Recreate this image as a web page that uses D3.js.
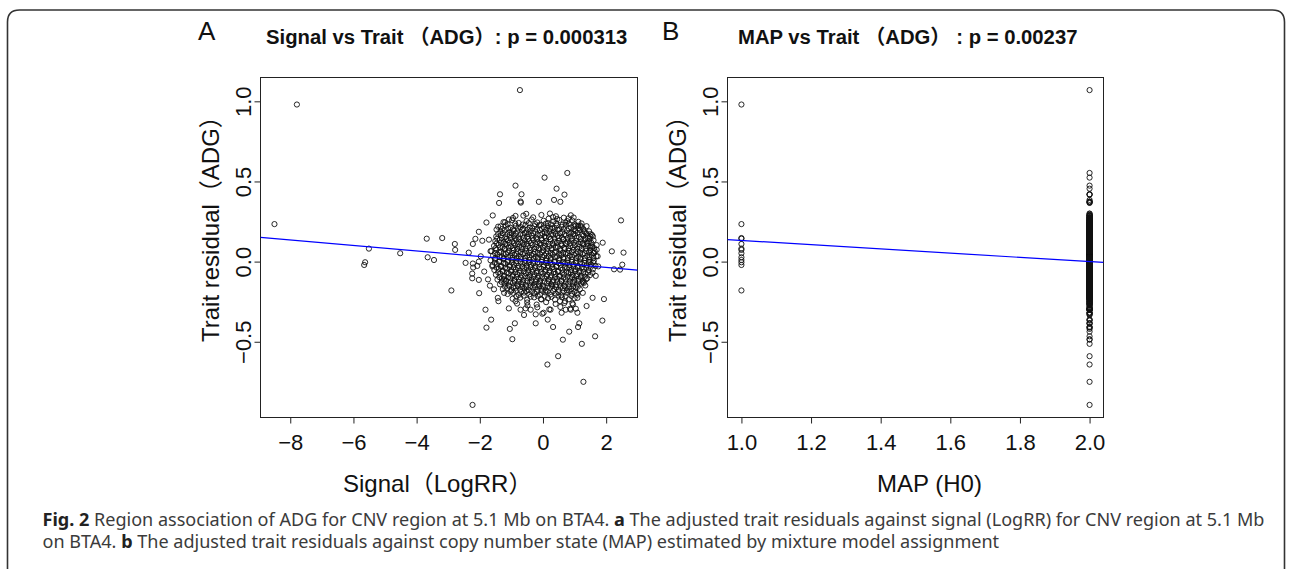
<!DOCTYPE html>
<html>
<head>
<meta charset="utf-8">
<script src="https://cdn.jsdelivr.net/npm/d3@7"></script>
<style>
  html, body { margin: 0; padding: 0; background: #fff; }
  svg { display: block; }
  .lbl { font-family: "Liberation Sans", Arial, "Noto Sans CJK SC", sans-serif; fill: #111; }
  .cap { font-family: "Noto Sans", "Open Sans", sans-serif; fill: #3b3b3b; }
</style>
</head>
<body>
<svg id="fig" width="1292" height="569"></svg>
<script>
// signal (LogRR) vs trait residual, copy number state 1 (MAP = 1)
const map1Points = [
  [-8.50, 0.234], [-7.79, 0.98], [-5.66, -0.021], [-5.63, -0.004], [-5.51, 0.081],
  [-4.52, 0.052], [-3.68, 0.143], [-3.65, 0.027], [-3.45, 0.010], [-3.19, 0.147],
  [-2.90, -0.180], [-2.79, 0.110], [-2.78, 0.073]
];

// MAP = 2, scattered points around the main cloud
const map2Outliers = [
  [-0.73, 1.07], [0.77, 0.553], [0.05, 0.524], [-0.87, 0.474], [0.43, 0.455], [-1.36, 0.42], [-0.68, 0.42],
  [0.68, 0.418], [0.35, 0.385], [0.55, 0.373], [-0.13, 0.373], [-0.71, 0.375], [-0.70, 0.368], [-1.39, 0.366],
  [2.47, 0.257], [-1.59, 0.288], [-1.79, 0.244], [1.89, 0.118], [2.18, 0.064], [2.55, 0.056], [2.51, -0.019],
  [2.25, -0.048], [2.44, -0.05], [1.67, -0.089], [1.93, -0.234], [1.57, -0.226], [1.38, -0.277], [1.88, -0.368],
  [1.65, -0.466], [1.23, -0.513], [1.11, -0.408], [1.15, -0.385], [0.83, -0.437], [0.63, -0.487], [0.48, -0.59],
  [0.14, -0.642], [1.28, -0.75], [-2.23, -0.894], [0.32, -0.408], [0.15, -0.362], [0.02, -0.319], [-0.23, -0.385],
  [-0.23, -0.329], [-0.60, -0.333], [-0.89, -0.385], [-1.05, -0.42], [-0.97, -0.484], [-1.08, -0.292], [-1.64, -0.362],
  [-1.79, -0.412], [-1.82, -0.30], [-2.02, -0.197], [-2.24, -0.104], [-2.24, -0.075], [-2.45, -0.008], [-2.35, 0.056],
  [-2.22, 0.11], [-2.03, 0.186], [-2.14, 0.142], [-2.22, -0.012], [-2.08, -0.027], [-2.03, 0.0], [-2.21, -0.037],
  [-1.97, 0.033], [-1.92, 0.13], [-1.86, -0.062], [-2.03, -0.114], [-1.08, 0.263], [-0.87, 0.285], [-0.53, 0.298],
  [0.22, 0.30], [0.32, 0.277], [0.45, 0.265], [0.97, 0.275], [1.11, 0.224], [1.19, 0.224], [0.81, 0.27],
  [-1.20, 0.246], [-1.34, 0.22], [-1.47, 0.20], [1.70, 0.074], [1.73, 0.033], [1.75, -0.03], [1.52, 0.095],
  [1.49, 0.156], [1.41, 0.119], [1.30, 0.189], [-1.71, 0.137], [-1.66, 0.065], [-1.60, -0.03], [-1.74, -0.111],
  [-1.55, -0.173], [-1.68, -0.15], [-1.43, -0.226], [-1.41, -0.247], [-1.23, -0.195], [-1.23, -0.111], [1.30, -0.132],
  [1.26, -0.195], [1.07, -0.195], [1.09, -0.226], [0.93, -0.261], [0.70, -0.247], [0.72, -0.30], [0.54, -0.247],
  [0.24, -0.30], [-0.02, -0.325], [-0.05, -0.236], [-0.39, -0.30], [-0.49, -0.273], [-0.71, -0.30], [-0.87, -0.247],
  [0.59, -0.319], [0.88, -0.30], [1.09, -0.319], [1.04, -0.294], [1.36, -0.111], [1.57, -0.07], [1.50, 0.0],
  [1.62, 0.054], [1.58, 0.157], [0.99, 0.22], [0.77, 0.252]
];

// MAP = 2, dense core of the cloud (estimated, one line per band of residuals)
const map2Core = [
  [-0.95, 0.272], [-0.62, 0.287], [-0.31, 0.276], [-0.05, 0.291], [0.18, 0.268], [0.41, 0.283], [0.66, 0.274], [0.88, 0.289],
  [-1.25, 0.246], [-0.98, 0.258], [-0.77, 0.241], [-0.52, 0.253], [-0.36, 0.262], [-0.18, 0.244], [0.02, 0.255], [0.16, 0.239], [0.33, 0.251], [0.52, 0.26], [0.71, 0.243], [0.93, 0.256], [1.12, 0.248],
  [-1.42, 0.218], [-1.18, 0.226], [-1.02, 0.211], [-0.86, 0.223], [-0.71, 0.215], [-0.55, 0.229], [-0.42, 0.212], [-0.27, 0.221], [-0.12, 0.227], [0.03, 0.214], [0.15, 0.222], [0.29, 0.209], [0.44, 0.225], [0.58, 0.217], [0.73, 0.23], [0.89, 0.213], [1.04, 0.224], [1.21, 0.216], [1.38, 0.221],
  [-1.35, 0.186], [-1.21, 0.195], [-1.06, 0.182], [-0.93, 0.193], [-0.81, 0.188], [-0.66, 0.198], [-0.53, 0.181], [-0.39, 0.192], [-0.24, 0.185], [-0.10, 0.196], [0.06, 0.183], [0.20, 0.191], [0.34, 0.187], [0.47, 0.199], [0.61, 0.184], [0.76, 0.194], [0.90, 0.18], [1.03, 0.19], [1.17, 0.197], [1.33, 0.183], [1.46, 0.189],
  [-1.48, 0.157], [-1.33, 0.164], [-1.19, 0.152], [-1.05, 0.166], [-0.92, 0.159], [-0.78, 0.151], [-0.63, 0.168], [-0.50, 0.155], [-0.36, 0.162], [-0.22, 0.149], [-0.08, 0.165], [0.05, 0.158], [0.19, 0.153], [0.32, 0.167], [0.46, 0.16], [0.60, 0.15], [0.73, 0.163], [0.87, 0.156], [1.01, 0.169], [1.14, 0.154], [1.28, 0.161], [1.41, 0.148], [1.55, 0.166],
  [-1.51, 0.128], [-1.37, 0.136], [-1.24, 0.121], [-1.11, 0.133], [-0.97, 0.125], [-0.84, 0.138], [-0.71, 0.122], [-0.57, 0.131], [-0.44, 0.127], [-0.30, 0.135], [-0.17, 0.12], [-0.03, 0.134], [0.10, 0.126], [0.24, 0.139], [0.37, 0.123], [0.51, 0.13], [0.64, 0.137], [0.78, 0.124], [0.91, 0.132], [1.05, 0.129], [1.19, 0.121], [1.32, 0.136], [1.46, 0.127], [1.60, 0.133],
  [-1.55, 0.098], [-1.41, 0.104], [-1.28, 0.091], [-1.15, 0.107], [-1.01, 0.095], [-0.88, 0.101], [-0.75, 0.093], [-0.61, 0.108], [-0.48, 0.097], [-0.34, 0.103], [-0.21, 0.09], [-0.07, 0.106], [0.06, 0.099], [0.20, 0.094], [0.33, 0.105], [0.47, 0.092], [0.60, 0.10], [0.74, 0.109], [0.87, 0.096], [1.01, 0.102], [1.15, 0.091], [1.28, 0.107], [1.42, 0.098], [1.56, 0.094], [1.70, 0.103],
  [-1.63, 0.066], [-1.47, 0.074], [-1.33, 0.061], [-1.20, 0.077], [-1.07, 0.068], [-0.93, 0.072], [-0.80, 0.063], [-0.66, 0.078], [-0.53, 0.065], [-0.39, 0.071], [-0.26, 0.06], [-0.12, 0.075], [0.01, 0.069], [0.15, 0.064], [0.28, 0.076], [0.42, 0.062], [0.55, 0.07], [0.69, 0.079], [0.82, 0.067], [0.96, 0.073], [1.09, 0.061], [1.23, 0.077], [1.37, 0.066], [1.50, 0.072], [1.64, 0.064],
  [-1.58, 0.038], [-1.44, 0.045], [-1.30, 0.031], [-1.17, 0.047], [-1.03, 0.036], [-0.90, 0.042], [-0.77, 0.033], [-0.63, 0.048], [-0.50, 0.035], [-0.36, 0.041], [-0.23, 0.03], [-0.09, 0.046], [0.04, 0.039], [0.18, 0.034], [0.31, 0.044], [0.45, 0.032], [0.58, 0.04], [0.72, 0.049], [0.85, 0.037], [0.99, 0.043], [1.12, 0.031], [1.26, 0.046], [1.40, 0.036], [1.54, 0.042], [1.69, 0.034],
  [-1.66, 0.008], [-1.52, 0.015], [-1.38, 0.002], [-1.25, 0.017], [-1.11, 0.006], [-0.98, 0.012], [-0.84, 0.003], [-0.71, 0.018], [-0.57, 0.005], [-0.44, 0.011], [-0.30, 0.0], [-0.17, 0.016], [-0.03, 0.009], [0.10, 0.004], [0.24, 0.014], [0.37, 0.001], [0.51, 0.01], [0.64, 0.019], [0.78, 0.007], [0.91, 0.013], [1.05, 0.001], [1.18, 0.016], [1.32, 0.006], [1.46, 0.012], [1.61, 0.004],
  [-1.60, -0.022], [-1.46, -0.015], [-1.32, -0.028], [-1.19, -0.013], [-1.05, -0.024], [-0.92, -0.018], [-0.78, -0.027], [-0.65, -0.012], [-0.51, -0.025], [-0.38, -0.019], [-0.24, -0.03], [-0.11, -0.014], [0.03, -0.021], [0.16, -0.026], [0.30, -0.016], [0.43, -0.029], [0.57, -0.02], [0.70, -0.011], [0.84, -0.023], [0.97, -0.017], [1.11, -0.029], [1.24, -0.014], [1.38, -0.024], [1.52, -0.018], [1.66, -0.026],
  [-1.54, -0.052], [-1.40, -0.045], [-1.27, -0.058], [-1.13, -0.043], [-1.00, -0.054], [-0.86, -0.048], [-0.73, -0.057], [-0.59, -0.042], [-0.46, -0.055], [-0.32, -0.049], [-0.19, -0.06], [-0.05, -0.044], [0.08, -0.051], [0.22, -0.056], [0.35, -0.046], [0.49, -0.059], [0.62, -0.05], [0.76, -0.041], [0.89, -0.053], [1.03, -0.047], [1.16, -0.059], [1.30, -0.044], [1.44, -0.054], [1.58, -0.048],
  [-1.49, -0.082], [-1.35, -0.075], [-1.22, -0.088], [-1.08, -0.073], [-0.95, -0.084], [-0.81, -0.078], [-0.68, -0.087], [-0.54, -0.072], [-0.41, -0.085], [-0.27, -0.079], [-0.14, -0.09], [0.00, -0.074], [0.13, -0.081], [0.27, -0.086], [0.40, -0.076], [0.54, -0.089], [0.67, -0.08], [0.81, -0.071], [0.94, -0.083], [1.08, -0.077], [1.21, -0.089], [1.35, -0.074], [1.49, -0.084],
  [-1.44, -0.112], [-1.30, -0.105], [-1.17, -0.118], [-1.03, -0.103], [-0.90, -0.114], [-0.76, -0.108], [-0.63, -0.117], [-0.49, -0.102], [-0.36, -0.115], [-0.22, -0.109], [-0.09, -0.12], [0.05, -0.104], [0.18, -0.111], [0.32, -0.116], [0.45, -0.106], [0.59, -0.119], [0.72, -0.11], [0.86, -0.101], [0.99, -0.113], [1.13, -0.107], [1.26, -0.119], [1.40, -0.104],
  [-1.36, -0.142], [-1.22, -0.135], [-1.09, -0.148], [-0.95, -0.133], [-0.82, -0.144], [-0.68, -0.138], [-0.55, -0.147], [-0.41, -0.132], [-0.28, -0.145], [-0.14, -0.139], [-0.01, -0.15], [0.13, -0.134], [0.26, -0.141], [0.40, -0.146], [0.53, -0.136], [0.67, -0.149], [0.80, -0.14], [0.94, -0.131], [1.07, -0.143], [1.21, -0.137], [1.34, -0.149],
  [-1.27, -0.172], [-1.13, -0.165], [-0.99, -0.178], [-0.86, -0.163], [-0.72, -0.174], [-0.59, -0.168], [-0.45, -0.177], [-0.32, -0.162], [-0.18, -0.175], [-0.05, -0.169], [0.09, -0.18], [0.22, -0.164], [0.36, -0.171], [0.49, -0.176], [0.63, -0.166], [0.76, -0.179], [0.90, -0.17], [1.03, -0.161], [1.17, -0.173],
  [-1.12, -0.202], [-0.94, -0.195], [-0.77, -0.208], [-0.60, -0.193], [-0.43, -0.204], [-0.27, -0.198], [-0.10, -0.207], [0.07, -0.192], [0.24, -0.205], [0.41, -0.199], [0.58, -0.21], [0.75, -0.194], [0.92, -0.201], [1.09, -0.206],
  [-0.96, -0.232], [-0.72, -0.225], [-0.50, -0.238], [-0.28, -0.223], [-0.06, -0.234], [0.16, -0.228], [0.38, -0.237], [0.60, -0.222], [0.82, -0.235], [1.00, -0.229],
  [-0.82, -0.262], [-0.50, -0.255], [-0.20, -0.268], [0.10, -0.253], [0.40, -0.264], [0.68, -0.258], [0.95, -0.267],
  [-0.55, -0.292], [-0.18, -0.285], [0.20, -0.298], [0.55, -0.283], [0.86, -0.294]
];

// MAP = 2, further core points lying between the bands above
const map2CoreMid = [
  [-1.12, 0.233], [-0.88, 0.238], [-0.64, 0.231], [-0.45, 0.24], [-0.25, 0.234], [-0.07, 0.229], [0.09, 0.237], [0.25, 0.232], [0.42, 0.239], [0.62, 0.23], [0.82, 0.236], [1.00, 0.233], [1.22, 0.238],
  [-1.30, 0.203], [-1.11, 0.208], [-0.95, 0.201], [-0.79, 0.207], [-0.62, 0.204], [-0.48, 0.20], [-0.34, 0.209], [-0.19, 0.202], [-0.04, 0.206], [0.10, 0.199], [0.23, 0.205], [0.37, 0.208], [0.52, 0.201], [0.66, 0.204], [0.81, 0.207], [0.97, 0.20], [1.12, 0.206], [1.28, 0.203],
  [-1.42, 0.173], [-1.27, 0.178], [-1.13, 0.171], [-0.99, 0.177], [-0.86, 0.174], [-0.72, 0.17], [-0.58, 0.179], [-0.45, 0.172], [-0.31, 0.176], [-0.17, 0.169], [-0.02, 0.175], [0.12, 0.178], [0.26, 0.171], [0.40, 0.174], [0.54, 0.177], [0.68, 0.17], [0.82, 0.176], [0.96, 0.173], [1.10, 0.179], [1.24, 0.171], [1.38, 0.175], [1.51, 0.172],
  [-1.45, 0.143], [-1.30, 0.148], [-1.16, 0.141], [-1.02, 0.147], [-0.89, 0.144], [-0.75, 0.14], [-0.61, 0.149], [-0.47, 0.142], [-0.33, 0.146], [-0.19, 0.139], [-0.05, 0.145], [0.09, 0.148], [0.23, 0.141], [0.37, 0.144], [0.50, 0.147], [0.64, 0.14], [0.78, 0.146], [0.92, 0.143], [1.06, 0.149], [1.20, 0.141], [1.34, 0.145], [1.48, 0.142],
  [-1.47, 0.113], [-1.33, 0.118], [-1.20, 0.111], [-1.06, 0.117], [-0.92, 0.114], [-0.79, 0.11], [-0.65, 0.119], [-0.51, 0.112], [-0.38, 0.116], [-0.24, 0.109], [-0.10, 0.115], [0.03, 0.118], [0.17, 0.111], [0.30, 0.114], [0.44, 0.117], [0.57, 0.11], [0.71, 0.116], [0.85, 0.113], [0.98, 0.119], [1.12, 0.111], [1.25, 0.115], [1.39, 0.112], [1.53, 0.117],
  [-1.50, 0.083], [-1.36, 0.088], [-1.22, 0.081], [-1.09, 0.087], [-0.95, 0.084], [-0.82, 0.08], [-0.68, 0.089], [-0.55, 0.082], [-0.41, 0.086], [-0.28, 0.079], [-0.14, 0.085], [0.00, 0.088], [0.13, 0.081], [0.27, 0.084], [0.40, 0.087], [0.54, 0.08], [0.67, 0.086], [0.81, 0.083], [0.94, 0.089], [1.08, 0.081], [1.22, 0.085], [1.35, 0.082], [1.49, 0.087], [1.62, 0.084],
  [-1.52, 0.053], [-1.38, 0.058], [-1.25, 0.051], [-1.11, 0.057], [-0.98, 0.054], [-0.84, 0.05], [-0.71, 0.059], [-0.57, 0.052], [-0.44, 0.056], [-0.30, 0.049], [-0.17, 0.055], [-0.03, 0.058], [0.10, 0.051], [0.24, 0.054], [0.37, 0.057], [0.51, 0.05], [0.64, 0.056], [0.78, 0.053], [0.91, 0.059], [1.05, 0.051], [1.18, 0.055], [1.32, 0.052], [1.46, 0.057], [1.59, 0.054],
  [-1.51, 0.023], [-1.37, 0.028], [-1.24, 0.021], [-1.10, 0.027], [-0.97, 0.024], [-0.83, 0.02], [-0.70, 0.029], [-0.56, 0.022], [-0.43, 0.026], [-0.29, 0.019], [-0.16, 0.025], [-0.02, 0.028], [0.11, 0.021], [0.25, 0.024], [0.38, 0.027], [0.52, 0.02], [0.65, 0.026], [0.79, 0.023], [0.92, 0.029], [1.06, 0.021], [1.19, 0.025], [1.33, 0.022], [1.47, 0.027], [1.60, 0.024],
  [-1.53, -0.007], [-1.39, -0.002], [-1.25, -0.009], [-1.12, -0.003], [-0.98, -0.006], [-0.85, -0.01], [-0.71, -0.001], [-0.58, -0.008], [-0.44, -0.004], [-0.31, -0.011], [-0.17, -0.005], [-0.04, -0.002], [0.10, -0.009], [0.23, -0.006], [0.37, -0.003], [0.50, -0.01], [0.64, -0.004], [0.77, -0.007], [0.91, -0.001], [1.04, -0.009], [1.18, -0.005], [1.31, -0.008], [1.45, -0.003], [1.59, -0.006],
  [-1.47, -0.037], [-1.33, -0.032], [-1.20, -0.039], [-1.06, -0.033], [-0.93, -0.036], [-0.79, -0.04], [-0.66, -0.031], [-0.52, -0.038], [-0.39, -0.034], [-0.25, -0.041], [-0.12, -0.035], [0.02, -0.032], [0.15, -0.039], [0.29, -0.036], [0.42, -0.033], [0.56, -0.04], [0.69, -0.034], [0.83, -0.037], [0.96, -0.031], [1.10, -0.039], [1.23, -0.035], [1.37, -0.038], [1.51, -0.033],
  [-1.42, -0.067], [-1.28, -0.062], [-1.15, -0.069], [-1.01, -0.063], [-0.88, -0.066], [-0.74, -0.07], [-0.61, -0.061], [-0.47, -0.068], [-0.34, -0.064], [-0.20, -0.071], [-0.07, -0.065], [0.07, -0.062], [0.20, -0.069], [0.34, -0.066], [0.47, -0.063], [0.61, -0.07], [0.74, -0.064], [0.88, -0.067], [1.01, -0.061], [1.15, -0.069], [1.28, -0.065], [1.42, -0.068],
  [-1.38, -0.097], [-1.24, -0.092], [-1.11, -0.099], [-0.97, -0.093], [-0.84, -0.096], [-0.70, -0.10], [-0.57, -0.091], [-0.43, -0.098], [-0.30, -0.094], [-0.16, -0.101], [-0.03, -0.095], [0.11, -0.092], [0.24, -0.099], [0.38, -0.096], [0.51, -0.093], [0.65, -0.10], [0.78, -0.094], [0.92, -0.097], [1.05, -0.091], [1.19, -0.099], [1.32, -0.095],
  [-1.31, -0.127], [-1.17, -0.122], [-1.04, -0.129], [-0.90, -0.123], [-0.77, -0.126], [-0.63, -0.13], [-0.50, -0.121], [-0.36, -0.128], [-0.23, -0.124], [-0.09, -0.131], [0.04, -0.125], [0.18, -0.122], [0.31, -0.129], [0.45, -0.126], [0.58, -0.123], [0.72, -0.13], [0.85, -0.124], [0.99, -0.127], [1.12, -0.121], [1.26, -0.129],
  [-1.20, -0.157], [-1.06, -0.152], [-0.93, -0.159], [-0.79, -0.153], [-0.66, -0.156], [-0.52, -0.16], [-0.39, -0.151], [-0.25, -0.158], [-0.12, -0.154], [0.02, -0.161], [0.15, -0.155], [0.29, -0.152], [0.42, -0.159], [0.56, -0.156], [0.69, -0.153], [0.83, -0.16], [0.96, -0.154], [1.10, -0.157],
  [-1.03, -0.187], [-0.86, -0.182], [-0.69, -0.189], [-0.52, -0.183], [-0.36, -0.186], [-0.19, -0.19], [-0.02, -0.181], [0.15, -0.188], [0.32, -0.184], [0.49, -0.191], [0.66, -0.185], [0.83, -0.182], [1.00, -0.189],
  [-0.84, -0.217], [-0.61, -0.212], [-0.39, -0.219], [-0.17, -0.213], [0.05, -0.216], [0.27, -0.22], [0.49, -0.211], [0.71, -0.218], [0.90, -0.214]
];

// least-squares lines drawn in blue: [intercept, slope]
const fitA = [-0.002, -0.0171];
const fitB = [0.264, -0.132];

const ticksA = [-8, -6, -4, -2, 0, 2];
const ticksB = [1.0, 1.2, 1.4, 1.6, 1.8, 2.0];
const ticksY = [-0.5, 0.0, 0.5, 1.0];

const captionLines = [
  [['Fig. 2', true], [' Region association of ADG for CNV region at 5.1 Mb on BTA4. ', false], ['a', true],
   [' The adjusted trait residuals against signal (LogRR) for CNV region at 5.1 Mb', false]],
  [['on BTA4. ', false], ['b', true], [' The adjusted trait residuals against copy number state (MAP) estimated by mixture model assignment', false]]
];

const map2Points = map2Outliers.concat(map2Core, map2CoreMid);
const pointsA = map1Points.concat(map2Points);
const pointsB = map1Points.map(p => [1, p[1]]).concat(map2Points.map(p => [2, p[1]]));

// R default: data range widened by 4% each side
function widen(ext) {
  const d = (ext[1] - ext[0]) * 0.04;
  return [ext[0] - d, ext[1] + d];
}
const yDomain = widen(d3.extent(pointsA, d => d[1]));

const svg = d3.select('#fig');
svg.append('rect').attr('width', 1292).attr('height', 569).attr('fill', '#fff');

// rounded figure frame (open at the bottom)
svg.append('path')
  .attr('d', 'M7.5,569 V22 Q7.5,10 19.5,10 H1272.5 Q1284.5,10 1284.5,22 V569')
  .attr('fill', 'none').attr('stroke', '#333').attr('stroke-width', 1.6);

function drawPanel(o) {
  const x = d3.scaleLinear().domain(o.xDomain).range([o.left, o.right]);
  const y = d3.scaleLinear().domain(yDomain).range([o.bottom, o.top]);

  const gx = svg.append('g').attr('transform', `translate(0,${o.bottom})`)
    .call(d3.axisBottom(x).tickValues(o.xTicks).tickFormat(o.xFmt).tickSize(6).tickSizeOuter(0));
  gx.select('.domain').remove();
  gx.selectAll('.tick line').attr('stroke', '#222');
  gx.selectAll('.tick text').attr('class', 'lbl').attr('y', 32).attr('dy', null).style('font-size', '22px');

  const gy = svg.append('g').attr('transform', `translate(${o.left},0)`)
    .call(d3.axisLeft(y).tickValues(ticksY).tickFormat(d3.format('.1f')).tickSize(6).tickSizeOuter(0));
  gy.select('.domain').remove();
  gy.selectAll('.tick line').attr('stroke', '#222');
  gy.selectAll('.tick text').attr('class', 'lbl').attr('x', null).attr('dy', null)
    .attr('text-anchor', 'middle').attr('transform', 'translate(-10,0) rotate(-90)').style('font-size', '22px');

  svg.append('rect').attr('x', o.left).attr('y', o.top)
    .attr('width', o.right - o.left).attr('height', o.bottom - o.top)
    .attr('fill', 'none').attr('stroke', '#222').attr('stroke-width', 1);

  svg.append('g').selectAll('circle').data(o.pts).join('circle')
    .attr('cx', d => x(d[0])).attr('cy', d => y(d[1])).attr('r', 2.6)
    .attr('fill', 'none').attr('stroke', '#111').attr('stroke-width', 0.9);

  const clipId = 'clip' + o.letter;
  svg.append('clipPath').attr('id', clipId).append('rect')
    .attr('x', o.left).attr('y', o.top).attr('width', o.right - o.left).attr('height', o.bottom - o.top);
  const [x0, x1] = o.xDomain;
  svg.append('line').attr('clip-path', `url(#${clipId})`)
    .attr('x1', x(x0)).attr('y1', y(o.fit[0] + o.fit[1] * x0))
    .attr('x2', x(x1)).attr('y2', y(o.fit[0] + o.fit[1] * x1))
    .attr('stroke', '#0000ff').attr('stroke-width', 1.2);

  svg.append('text').attr('class', 'lbl').attr('x', o.letterX).attr('y', 40)
    .style('font-size', '26px').text(o.letter);
  svg.append('text').attr('class', 'lbl').attr('x', o.titleX).attr('y', 44)
    .style('font-size', '20.3px').style('font-weight', 'bold').text(o.title);

  svg.append('text').attr('class', 'lbl').attr('x', o.xLabelX).attr('y', 492)
    .style('font-size', '24px').text(o.xLabel);
  svg.append('text').attr('class', 'lbl')
    .attr('transform', `translate(${o.left - 42},342) rotate(-90)`)
    .style('font-size', '24px').text('Trait residual（ADG）');
}

drawPanel({
  letter: 'A', letterX: 198, title: 'Signal vs Trait （ADG）: p =  0.000313', titleX: 266,
  left: 260.5, right: 637.5, top: 77.5, bottom: 417.5,
  xDomain: widen(d3.extent(pointsA, d => d[0])), xTicks: ticksA, xFmt: d3.format('d'),
  pts: pointsA, fit: fitA, xLabel: 'Signal（LogRR）', xLabelX: 343
});

drawPanel({
  letter: 'B', letterX: 662, title: 'MAP vs Trait （ADG） : p =  0.00237', titleX: 738,
  left: 727.5, right: 1103.5, top: 77.5, bottom: 417.5,
  xDomain: widen(d3.extent(pointsB, d => d[0])), xTicks: ticksB, xFmt: d3.format('.1f'),
  pts: pointsB, fit: fitB, xLabel: 'MAP (H0)', xLabelX: 877
});

// caption, sized so that the second line ends where it does in the figure
const cap = svg.append('g');
const capTexts = captionLines.map((line, i) => {
  const t = cap.append('text').attr('class', 'cap').attr('x', 42.5).attr('y', 526 + i * 21.5)
    .style('font-size', '15px');
  line.forEach(([s, bold]) => {
    t.append('tspan').text(s).style('font-weight', bold ? 'bold' : 'normal')
      .style('fill', bold ? '#222' : null);
  });
  return t;
});
const line2Width = capTexts[1].node().getComputedTextLength();
const capSize = 15 * 957 / line2Width;
capTexts.forEach(t => t.style('font-size', capSize + 'px'));
</script>
</body>
</html>
